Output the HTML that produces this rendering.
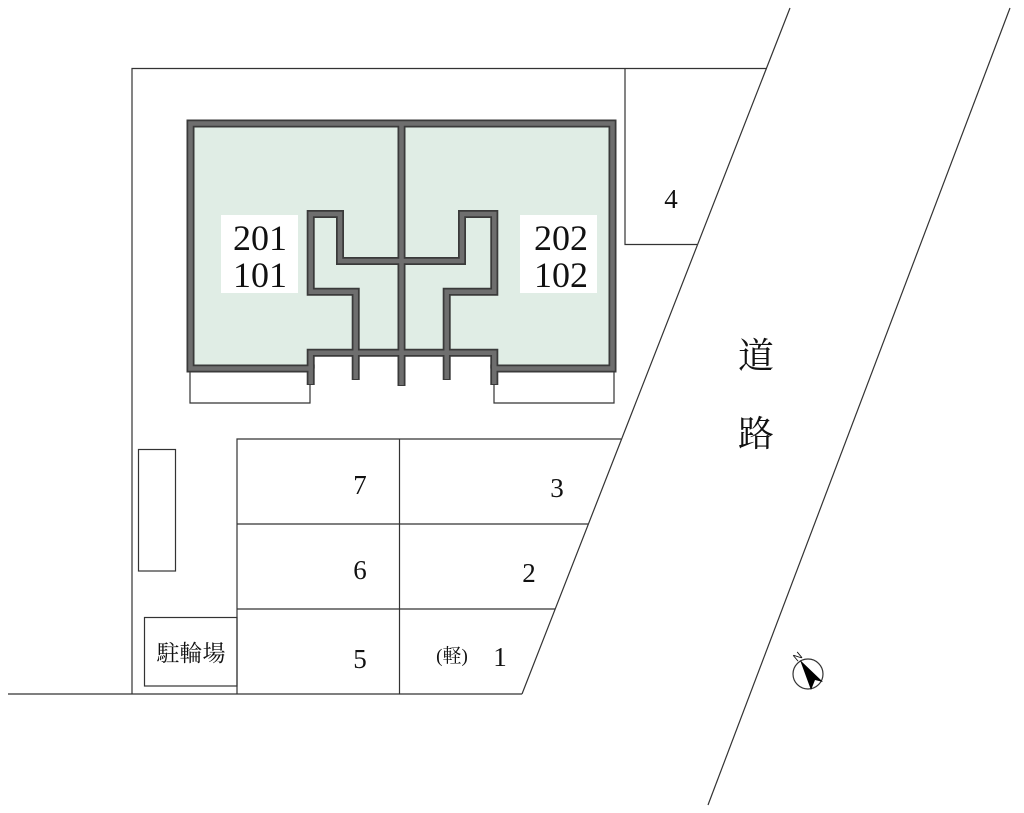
<!DOCTYPE html>
<html><head><meta charset="utf-8"><style>
html,body{margin:0;padding:0;background:#fff;}
svg{display:block;}
text{font-family:"Liberation Serif","Noto Serif CJK SC",serif;fill:#111;}
</style></head><body>
<svg width="1024" height="813" viewBox="0 0 1024 813" xmlns="http://www.w3.org/2000/svg">
<g stroke="#333" stroke-width="1.2" fill="none">
  <polyline points="132,694 132,68.5 767,68.5"/>
  <line x1="8" y1="694" x2="522" y2="694"/>
  <line x1="790" y1="8" x2="522" y2="694"/>
  <line x1="1010" y1="8" x2="708" y2="805"/>
  <polyline points="625,68.5 625,244.5 697,244.5"/>
  <polyline points="621,439 237,439 237,694"/>
  <line x1="237" y1="524" x2="588" y2="524"/>
  <line x1="237" y1="609" x2="555" y2="609"/>
  <line x1="399.5" y1="439" x2="399.5" y2="694"/>
  <rect x="138.5" y="449.5" width="37" height="121.5"/>
  <rect x="144.5" y="617.5" width="92.5" height="68.5"/>
  <polyline points="310,372 310,403 190,403 190,372"/>
  <polyline points="494,372 494,403 614,403 614,372"/>
</g>
<polygon points="190,123.5 612.5,123.5 612.5,368.5 494.3,368.5 494.3,352.7 310.7,352.7 310.7,368.5 190,368.5" fill="#e0ede5"/>
<g fill="none" stroke-linejoin="miter" stroke-linecap="butt">
 <g stroke="#3a3a3a" stroke-width="8">
  <polyline points="310.7,385 310.7,368.5 190.5,368.5 190.5,123.5 612.5,123.5 612.5,368.5 494.3,368.5 494.3,385"/>
  <polyline points="310.7,368.5 310.7,352.7 494.3,352.7 494.3,368.5"/>
  <line x1="401.5" y1="123.5" x2="401.5" y2="386"/>
  <polyline points="355.7,380 355.7,291.7 310.7,291.7 310.7,214 340,214 340,261 462,261 462,214 494.3,214 494.3,291.7 446.7,291.7 446.7,380"/>
 </g>
 <g stroke="#6e6e6e" stroke-width="4.5">
  <polyline points="310.7,384 310.7,368.5 190.5,368.5 190.5,123.5 612.5,123.5 612.5,368.5 494.3,368.5 494.3,384"/>
  <polyline points="310.7,368.5 310.7,352.7 494.3,352.7 494.3,368.5"/>
  <line x1="401.5" y1="124" x2="401.5" y2="385"/>
  <polyline points="355.7,379 355.7,291.7 310.7,291.7 310.7,214 340,214 340,261 462,261 462,214 494.3,214 494.3,291.7 446.7,291.7 446.7,379"/>
 </g>
</g>
<rect x="221" y="215" width="77" height="78" fill="#fff"/>
<rect x="520" y="215" width="77" height="78" fill="#fff"/>
<g font-size="36" text-anchor="middle">
 <text x="260" y="250">201</text><text x="260" y="287">101</text>
 <text x="561" y="250">202</text><text x="561" y="287">102</text>
</g>
<g font-size="27" text-anchor="middle">
 <text x="671" y="208">4</text>
 <text x="360" y="494">7</text><text x="557" y="497">3</text>
 <text x="360" y="579">6</text><text x="529" y="582">2</text>
 <text x="360" y="668">5</text><text x="500" y="666">1</text>
</g>
<text x="452" y="662" font-size="19" text-anchor="middle">(軽)</text>
<text x="191" y="661" font-size="23" text-anchor="middle">駐輪場</text>
<text x="756" y="368" font-size="36" text-anchor="middle">道</text>
<text x="756" y="446" font-size="36" text-anchor="middle">路</text>
<circle cx="808" cy="674" r="15" fill="#fff" stroke="#333" stroke-width="1.2"/>
<polygon points="800,660 823,682 815,680 811,690" fill="#000"/>
<text x="797" y="662" font-size="11" transform="rotate(-40 797 662)" style="font-family:'Liberation Sans',sans-serif">N</text>
</svg>
</body></html>
